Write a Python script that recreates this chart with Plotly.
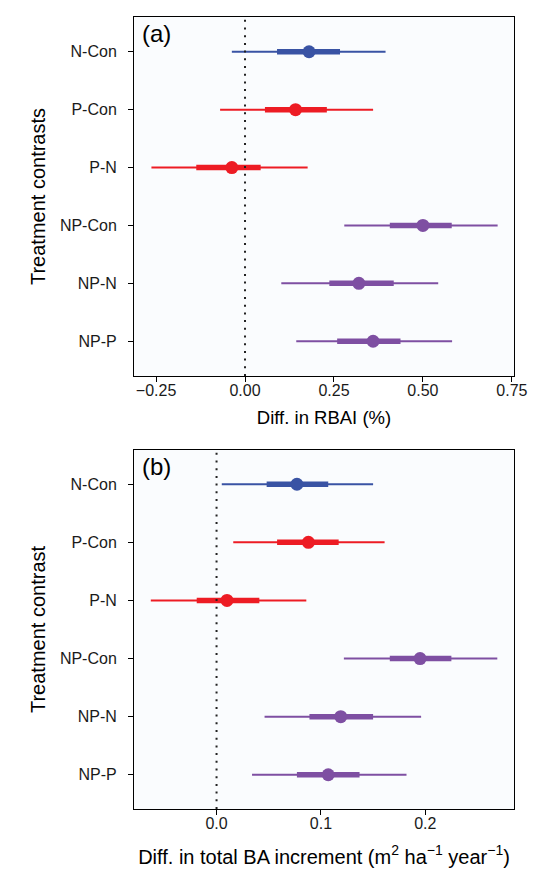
import plotly.graph_objects as go
from plotly.subplots import make_subplots

# treatment contrasts, top to bottom
contrasts = ["N-Con", "P-Con", "P-N", "NP-Con", "NP-N", "NP-P"]
colours = ["#3953A4", "#ED1C24", "#ED1C24", "#7E4FA2", "#7E4FA2", "#7E4FA2"]

# (a) difference in RBAI (%): median, inner interval, outer interval
rbai_mid = [0.180, 0.142, -0.037, 0.500, 0.320, 0.360]
rbai_in_lo = [0.090, 0.056, -0.137, 0.407, 0.237, 0.259]
rbai_in_hi = [0.267, 0.230, 0.044, 0.581, 0.418, 0.437]
rbai_out_lo = [-0.037, -0.070, -0.263, 0.279, 0.102, 0.144]
rbai_out_hi = [0.395, 0.360, 0.176, 0.710, 0.543, 0.582]

# (b) difference in total BA increment
ba_mid = [0.077, 0.088, 0.010, 0.195, 0.119, 0.107]
ba_in_lo = [0.048, 0.058, -0.019, 0.166, 0.089, 0.077]
ba_in_hi = [0.107, 0.117, 0.041, 0.225, 0.150, 0.137]
ba_out_lo = [0.005, 0.016, -0.063, 0.122, 0.046, 0.034]
ba_out_hi = [0.150, 0.161, 0.086, 0.269, 0.196, 0.182]

FONT = "Liberation Sans, Arial, sans-serif"

fig = make_subplots(rows=2, cols=1, vertical_spacing=0.0934)


def add_panel(row, mid, in_lo, in_hi, out_lo, out_hi):
    for i, c in enumerate(contrasts):
        col = colours[i]
        fig.add_trace(go.Scatter(x=[out_lo[i], out_hi[i]], y=[c, c], mode="lines",
                                 line=dict(color=col, width=2), showlegend=False,
                                 hoverinfo="skip"), row=row, col=1)
        fig.add_trace(go.Scatter(x=[in_lo[i], in_hi[i]], y=[c, c], mode="lines",
                                 line=dict(color=col, width=5.5), showlegend=False,
                                 hoverinfo="skip"), row=row, col=1)
        fig.add_trace(go.Scatter(x=[mid[i]], y=[c], mode="markers",
                                 marker=dict(color=col, size=13), showlegend=False),
                      row=row, col=1)


add_panel(1, rbai_mid, rbai_in_lo, rbai_in_hi, rbai_out_lo, rbai_out_hi)
add_panel(2, ba_mid, ba_in_lo, ba_in_hi, ba_out_lo, ba_out_hi)

axis_common = dict(showline=True, linecolor="black", linewidth=1, mirror=True,
                   ticks="outside", ticklen=5, tickcolor="black", showgrid=False,
                   zeroline=False, automargin=False,
                   tickfont=dict(size=16, color="#1a1a1a"))

fig.update_xaxes(**axis_common, ticklabelstandoff=-5)
fig.update_yaxes(**axis_common, ticklabelstandoff=8)

fig.update_xaxes(range=[-0.312, 0.756], tickvals=[-0.25, 0, 0.25, 0.5, 0.75],
                 tickformat=".2f",
                 title=dict(text="Diff. in RBAI (%)", font=dict(size=18.5, color="black"),
                            standoff=12), row=1, col=1)
fig.update_xaxes(range=[-0.0791, 0.285], tickvals=[0, 0.1, 0.2], tickformat=".1f",
                 title=dict(text="Diff. in total BA increment (m<sup>2</sup> ha<sup>\u22121</sup> year<sup>\u22121</sup>)",
                            font=dict(size=20, color="black"), standoff=18),
                 row=2, col=1)

fig.update_yaxes(categoryorder="array", categoryarray=contrasts, range=[5.6, -0.6],
                 row=1, col=1,
                 title=dict(text="Treatment contrasts", font=dict(size=20, color="black"),
                            standoff=8))
fig.update_yaxes(categoryorder="array", categoryarray=contrasts, range=[5.59, -0.59],
                 row=2, col=1,
                 title=dict(text="Treatment contrast", font=dict(size=20, color="black"),
                            standoff=8))

# dotted zero lines
for ax in ["x", "x2"]:
    yref = "y domain" if ax == "x" else "y2 domain"
    fig.add_shape(type="line", xref=ax, yref=yref, x0=0, x1=0, y0=0, y1=1,
                  line=dict(color="#222222", width=2, dash="2px,5.7px"))

fig.add_annotation(text="(a)", xref="x domain", yref="y domain", x=0.015, y=0.996,
                   xanchor="left", yanchor="top", showarrow=False,
                   font=dict(size=24, color="black"))
fig.add_annotation(text="(b)", xref="x2 domain", yref="y2 domain", x=0.015, y=0.996,
                   xanchor="left", yanchor="top", showarrow=False,
                   font=dict(size=24, color="black"))

# page body keeps an 8px margin, so the figure is trimmed by that much
fig.update_layout(
    width=537, height=880,
    margin=dict(l=126, r=31, t=9, b=79),
    paper_bgcolor="white", plot_bgcolor="#FAFCFE",
    font=dict(family=FONT, color="black"),
)
fig.layout.yaxis.domain = [0.5467, 1.0]
fig.layout.yaxis2.domain = [0.0, 0.4533]

fig.write_html("out.html")
